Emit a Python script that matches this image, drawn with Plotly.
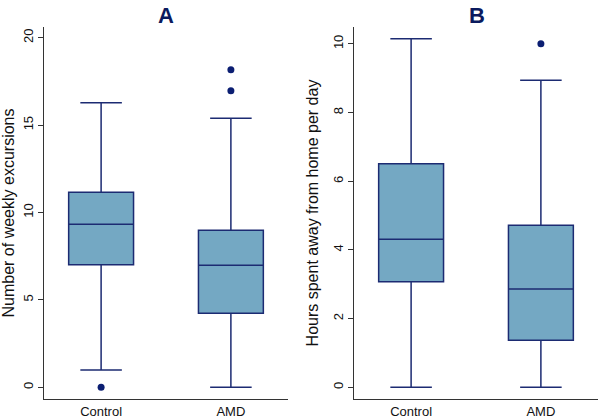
import plotly.graph_objects as go

categories = ["Control", "AMD"]

# Panel A: Number of weekly excursions
a_q1 = [7.01, 4.23]
a_median = [9.32, 6.98]
a_q3 = [11.15, 8.98]
a_lower = [0.99, 0.0]
a_upper = [16.28, 15.39]
a_out_x = ["Control", "AMD", "AMD"]
a_out_y = [0.0, 16.97, 18.17]

# Panel B: Hours spent away from home per day
b_q1 = [3.07, 1.37]
b_median = [4.31, 2.86]
b_q3 = [6.51, 4.72]
b_lower = [0.0, 0.0]
b_upper = [10.15, 8.94]
b_out_x = ["AMD"]
b_out_y = [10.0]

FILL = "#74A8C3"
LINE = "#1C2B72"
DOT = "#0B1E72"

fig = go.Figure()

fig.add_trace(go.Box(x=categories, q1=a_q1, median=a_median, q3=a_q3,
                     lowerfence=a_lower, upperfence=a_upper,
                     fillcolor=FILL, line=dict(color=LINE, width=1.5),
                     width=0.5, whiskerwidth=0.64, boxpoints=False,
                     xaxis="x", yaxis="y", showlegend=False, hoverinfo="skip"))
fig.add_trace(go.Scatter(x=a_out_x, y=a_out_y, mode="markers",
                         marker=dict(color=DOT, size=7),
                         xaxis="x", yaxis="y", showlegend=False))

fig.add_trace(go.Box(x=categories, q1=b_q1, median=b_median, q3=b_q3,
                     lowerfence=b_lower, upperfence=b_upper,
                     fillcolor=FILL, line=dict(color=LINE, width=1.5),
                     width=0.5, whiskerwidth=0.64, boxpoints=False,
                     xaxis="x2", yaxis="y2", showlegend=False, hoverinfo="skip"))
fig.add_trace(go.Scatter(x=b_out_x, y=b_out_y, mode="markers",
                         marker=dict(color=DOT, size=7),
                         xaxis="x2", yaxis="y2", showlegend=False))

tickfont = dict(family="Liberation Sans, Arial", size=13, color="#111111")
y_common = dict(showline=True, linecolor="#333333", linewidth=1,
                showgrid=False, zeroline=False, ticks="outside",
                ticklen=5, tickcolor="#333333", automargin=False,
                tickfont=tickfont)
x_common = dict(showline=True, linecolor="#333333", linewidth=1,
                showgrid=False, zeroline=False, ticks="",
                automargin=False, tickfont=tickfont)

fig.update_layout(
    width=600, height=418,
    margin=dict(l=0, r=0, t=0, b=0),
    paper_bgcolor="white", plot_bgcolor="white",
    font=dict(family="Liberation Sans, Arial", color="#111111"),
    xaxis=dict(domain=[44/600, 288/600], range=[-0.44, 1.44], anchor="y",
               type="category", categoryorder="array", categoryarray=categories,
               **x_common),
    yaxis=dict(domain=[1-399/418, 1-27/418], range=[-0.67, 20.61], anchor="x",
               tickvals=[0, 5, 10, 15, 20], tickangle=-90,
               title=dict(text="Number of weekly excursions",
                          font=dict(size=16, color="#111111"), standoff=8),
               **y_common),
    xaxis2=dict(domain=[354/600, 598/600], range=[-0.44, 1.44], anchor="y2",
                type="category", categoryorder="array", categoryarray=categories,
                **x_common),
    yaxis2=dict(domain=[1-399/418, 1-27/418], range=[-0.34, 10.49], anchor="x2",
                tickvals=[0, 2, 4, 6, 8, 10], tickangle=-90,
                title=dict(text="Hours spent away from home per day",
                           font=dict(size=16, color="#111111"), standoff=8),
                **y_common),
    annotations=[
        dict(text="<b>A</b>", x=166/600, y=1-15/418, xref="paper", yref="paper",
             showarrow=False, font=dict(size=22, color="#0B1A5E"),
             xanchor="center", yanchor="middle"),
        dict(text="<b>B</b>", x=477/600, y=1-15/418, xref="paper", yref="paper",
             showarrow=False, font=dict(size=22, color="#0B1A5E"),
             xanchor="center", yanchor="middle"),
    ],
)

fig.write_html("out.html", config={"displayModeBar": False},
               post_script="document.body.style.margin='0';document.body.style.overflow='hidden';")
